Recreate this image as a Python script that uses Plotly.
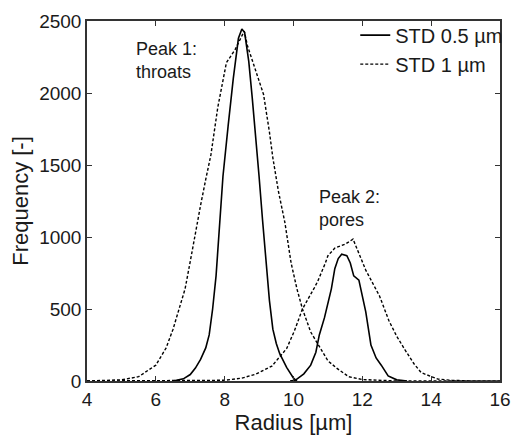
import plotly.graph_objects as go

# Solid (STD 0.5 µm), peak 1
s1_x = [6.5, 6.8, 7.0, 7.15, 7.3, 7.45, 7.55, 7.65, 7.75, 7.85, 7.95, 8.1, 8.25, 8.4, 8.5, 8.58,
        8.7, 8.8, 8.9, 9.0, 9.1, 9.2, 9.3, 9.4, 9.5, 9.6, 9.8, 10.0, 10.1]
s1_y = [0, 15, 45, 90, 150, 230, 320, 500, 730, 1060, 1420, 1770, 2100, 2380, 2445, 2420,
        2220, 1970, 1720, 1420, 1120, 820, 560, 360, 260, 190, 95, 20, 0]
# Solid, peak 2
s2_x = [9.9, 10.05, 10.3, 10.5, 10.65, 10.75, 10.9, 11.1, 11.2, 11.3, 11.4, 11.55, 11.65, 11.75,
        11.9, 12.0, 12.1, 12.25, 12.4, 12.55, 12.75, 13.0, 13.3]
s2_y = [0, 5, 50, 110, 200, 320, 440, 640, 780, 850, 880, 870, 820, 730,
        700, 590, 480, 250, 160, 110, 35, 8, 0]
# Dashed (STD 1 µm), peak 1
d1_x = [4.0, 4.5, 5.0, 5.5, 6.0, 6.3, 6.5, 6.7, 6.85, 7.0, 7.2, 7.3, 7.45, 7.6, 7.8, 8.05, 8.3,
        8.57, 8.66, 8.9, 9.13, 9.3, 9.4, 9.56, 9.75, 9.93, 10.1, 10.26, 10.5, 10.75, 11.0, 11.25,
        11.6, 12.0, 12.5, 13.0, 16.0]
d1_y = [0, 2, 8, 30, 110, 230, 360, 520, 640, 830, 1100, 1220, 1400, 1570, 1900, 2210, 2300,
        2430, 2330, 2160, 1990, 1730, 1550, 1320, 1100, 820, 640, 500, 340, 240, 140, 90,
        30, 10, 3, 0, 0]
# Dashed, peak 2
d2_x = [4.0, 6.0, 8.0, 8.5, 8.9, 9.37, 9.8, 10.03, 10.26, 10.6, 10.7, 10.93, 11.0, 11.2, 11.5,
        11.73, 11.9, 12.1, 12.3, 12.5, 12.77, 13.0, 13.24, 13.5, 13.71, 14.0, 14.2, 14.6, 15.2, 16.0]
d2_y = [0, 0, 5, 20, 47, 103, 225, 350, 500, 645, 690, 822, 870, 923, 950,
        985, 880, 770, 680, 590, 420, 310, 216, 120, 58, 30, 13, 5, 0, 0]

x_ticks = [4, 6, 8, 10, 12, 14, 16]
y_ticks = [0, 500, 1000, 1500, 2000, 2500]

FONT = "Liberation Sans, Arial, sans-serif"
INK = "#1a1a1a"

fig = go.Figure()
solid = dict(color="black", width=1.6)
dashed = dict(color="black", width=1.4, dash="3px,2px")
fig.add_trace(go.Scatter(x=s1_x, y=s1_y, mode="lines", line=solid, name="STD 0.5 µm",
                         legendgroup="a"))
fig.add_trace(go.Scatter(x=s2_x, y=s2_y, mode="lines", line=solid, name="STD 0.5 µm",
                         legendgroup="a", showlegend=False))
fig.add_trace(go.Scatter(x=d1_x, y=d1_y, mode="lines", line=dashed, name="STD 1 µm",
                         legendgroup="b"))
fig.add_trace(go.Scatter(x=d2_x, y=d2_y, mode="lines", line=dashed, name="STD 1 µm",
                         legendgroup="b", showlegend=False))

fig.add_annotation(x=5.36, y=2227, text="Peak 1:<br>throats", showarrow=False,
                   xanchor="left", yanchor="middle", align="left",
                   font=dict(size=18, family=FONT, color=INK))
fig.add_annotation(x=10.68, y=1200, text="Peak 2:<br>pores", showarrow=False,
                   xanchor="left", yanchor="middle", align="left",
                   font=dict(size=18, family=FONT, color=INK))

axis_common = dict(showgrid=False, zeroline=False, showline=True, linecolor="#333",
                   linewidth=1.5, mirror="ticks", ticks="inside", ticklen=5, tickwidth=1,
                   tickcolor="#333", tickfont=dict(size=19, family=FONT, color=INK))
fig.update_xaxes(range=[4, 16], tickvals=x_ticks, title=dict(text="Radius [µm]", standoff=2,
                 font=dict(size=22, family=FONT, color=INK)), **axis_common)
fig.update_yaxes(range=[0, 2500], tickvals=y_ticks, title=dict(text="Frequency [-]", standoff=4,
                 font=dict(size=22, family=FONT, color=INK)), **axis_common)

fig.update_layout(
    width=521, height=437,
    margin=dict(l=87, r=10, t=21, b=45),
    paper_bgcolor="white", plot_bgcolor="white",
    legend=dict(x=1.02, y=1.015, xanchor="right", yanchor="top", bgcolor="rgba(0,0,0,0)",
                font=dict(size=20, family=FONT, color=INK), itemwidth=30,
                tracegroupgap=0),
    showlegend=True,
)

fig.write_html("out.html")
